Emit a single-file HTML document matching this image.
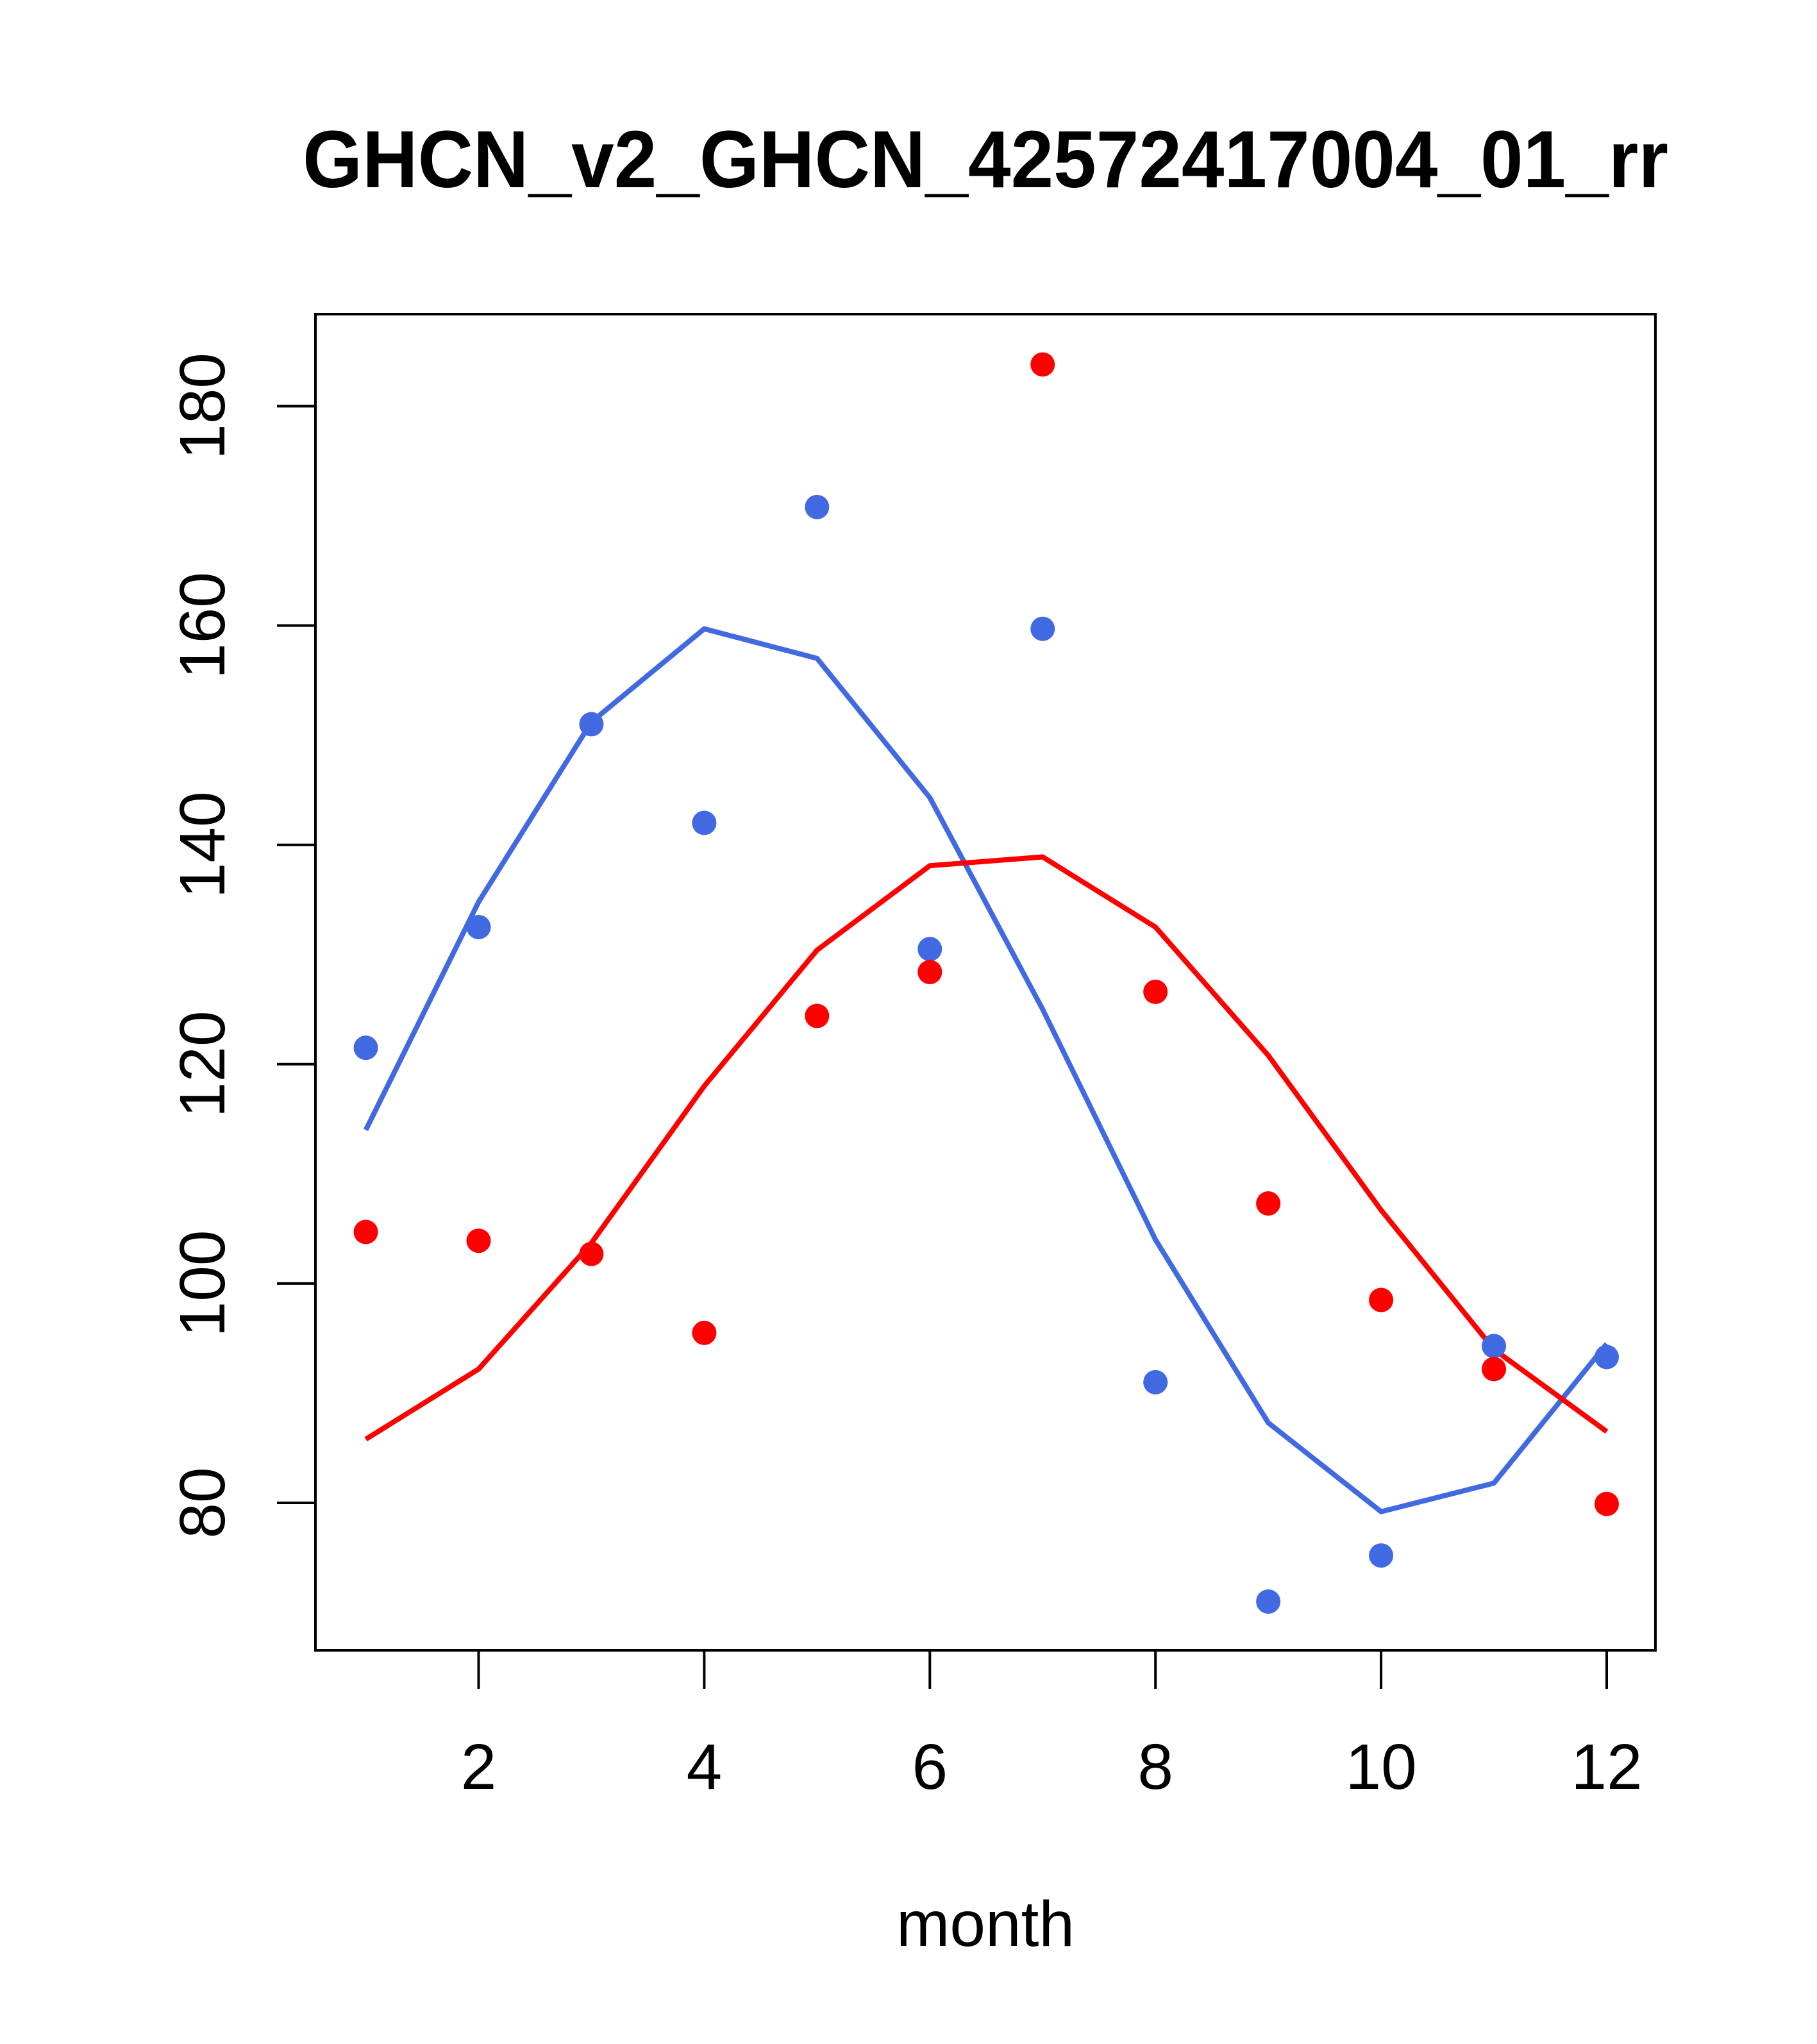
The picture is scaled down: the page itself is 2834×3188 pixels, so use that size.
<!DOCTYPE html>
<html><head><meta charset="utf-8"><style>html,body{margin:0;padding:0;background:#fff}svg{display:block}</style></head>
<body>
<svg id="chart" width="2834" height="3188" viewBox="0 0 2834 3188" xmlns="http://www.w3.org/2000/svg" font-family="Liberation Sans, Arial, sans-serif">
<rect width="2834" height="3188" fill="#fff"/>
<text x="1537" y="292" font-size="126" font-weight="bold" text-anchor="middle" textLength="2130" lengthAdjust="spacingAndGlyphs">GHCN_v2_GHCN_42572417004_01_rr</text>
<text x="1537" y="3035" font-size="100" text-anchor="middle">month</text>
<rect x="492" y="490" width="2090" height="2084" fill="none" stroke="#000" stroke-width="4"/>
<g id="axes"></g>
<g id="marks"></g>
</svg>
<script>
const months = [1,2,3,4,5,6,7,8,9,10,11,12];
const bluePoints = [121.5,132.5,151,142,170.8,130.5,159.7,91,71,75.2,94.3,93.3];
const redPoints = [104.7,103.9,102.7,95.5,124.4,128.4,183.8,126.6,107.3,98.5,92.2,79.9];
const blueLine = [114,134.8,151.2,159.7,157,144.3,125,104,87.3,79.2,81.8,94.5];
const redLine = [85.8,92.2,103.7,118,130.4,138.1,138.9,132.5,120.8,106.7,94,86.5];
const xTicks = [2,4,6,8,10,12];
const yTicks = [80,100,120,140,160,180];

const NS = 'http://www.w3.org/2000/svg';
function xs(m){ return 746.5 + (m-2)*(2506-746.5)/10; }
function ys(v){ return 2344 - (v-80)*(2344-633.5)/100; }
function mk(tag, attrs, parent){
  const e = document.createElementNS(NS, tag);
  for (const k in attrs) e.setAttribute(k, attrs[k]);
  parent.appendChild(e); return e;
}
const axes = document.getElementById('axes');
const marks = document.getElementById('marks');
xTicks.forEach(t => {
  const l = mk('line', {x1: xs(t), x2: xs(t), y1: 2574, y2: 2634, stroke: '#000', 'stroke-width': 4}, axes);
  
  
  const tx = mk('text', {x: xs(t), y: 2790, 'font-size': 100, 'text-anchor': 'middle'}, axes);
  tx.textContent = t;
  
  
});
yTicks.forEach(t => {
  const l = mk('line', {x1: 432, x2: 492, y1: ys(t), y2: ys(t), stroke: '#000', 'stroke-width': 4}, axes);
  
  
  const tx = mk('text', {x: 0, y: 0, 'font-size': 100, 'text-anchor': 'middle', transform: 'translate(350,' + ys(t) + ') rotate(-90)'}, axes);
  tx.textContent = t;
  
  
});
function drawLine(vals, color, name){
  const p = mk('polyline', {points: months.map((m,i) => xs(m)+','+ys(vals[i])).join(' '), fill: 'none', stroke: color, 'stroke-width': 8, 'stroke-linejoin': 'round'}, marks);
  
  
}
function drawPts(vals, color, name){
  months.forEach((m,i) => {
    const c = mk('circle', {cx: xs(m), cy: ys(vals[i]), r: 19, fill: color}, marks);
    
    
  });
}
drawLine(blueLine, '#4169E1', 'blue-line');
drawLine(redLine, '#FF0000', 'red-line');
drawPts(bluePoints, '#4169E1', 'blue-point');
drawPts(redPoints, '#FF0000', 'red-point');
</script>
</body></html>
